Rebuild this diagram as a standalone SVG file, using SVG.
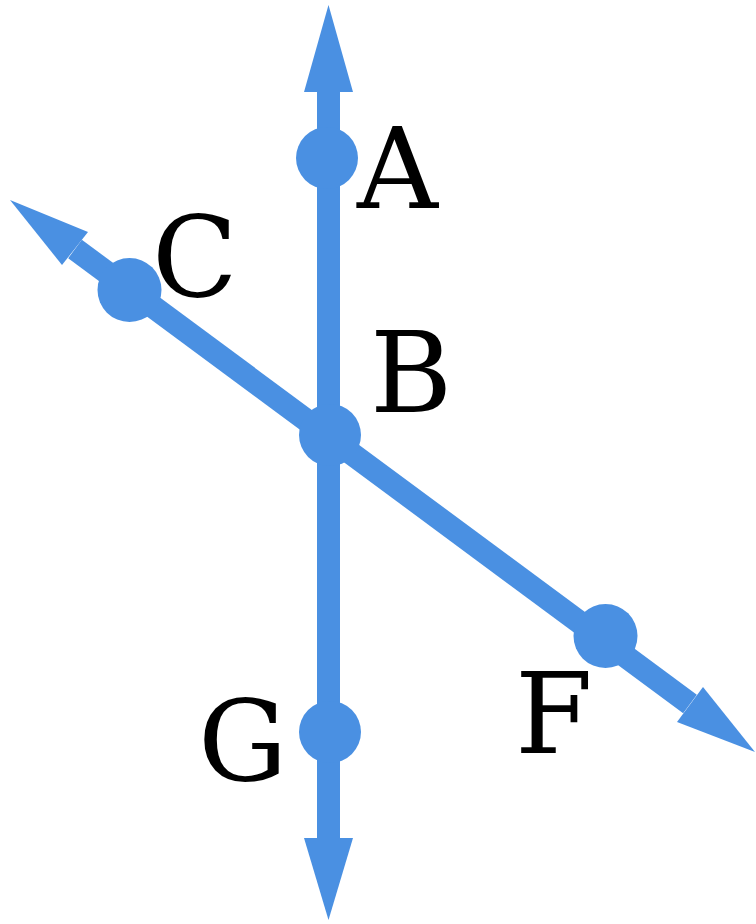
<svg xmlns="http://www.w3.org/2000/svg" width="756" height="924" viewBox="0 0 756 924">
<style>
.ln{stroke:#4A90E2;stroke-width:23;fill:none}
.hd{fill:#4A90E2}
.pt{fill:#4A90E2}
.lb{font-family:"DejaVu Serif","Liberation Serif",serif;font-size:112px;fill:#000}
</style>
<rect width="756" height="924" fill="#fff"/>
<g id="connectors">
<line class="ln" x1="328.5" y1="90" x2="328.5" y2="840"/>
<polygon class="hd" points="328.5,5 353,92 304,92"/>
<polygon class="hd" points="328.5,920 353,838 304,838"/>
<line class="ln" x1="75" y1="249" x2="690" y2="704"/>
<polygon class="hd" points="10,200 88,232 62,265"/>
<polygon class="hd" points="755,752 677,722 703,687"/>
</g>
<g id="A"><circle class="pt" cx="327" cy="158" r="31"/><text class="lb" x="357" y="208">A</text></g>
<g id="B"><circle class="pt" cx="330" cy="435" r="31"/><text class="lb" x="370" y="412">B</text></g>
<g id="C"><circle class="pt" cx="129.5" cy="290" r="32"/><text class="lb" x="152" y="296">C</text></g>
<g id="F"><circle class="pt" cx="605.5" cy="636" r="32"/><text class="lb" x="515" y="753">F</text></g>
<g id="G"><circle class="pt" cx="330" cy="732" r="31"/><text class="lb" x="198" y="780">G</text></g>
</svg>
